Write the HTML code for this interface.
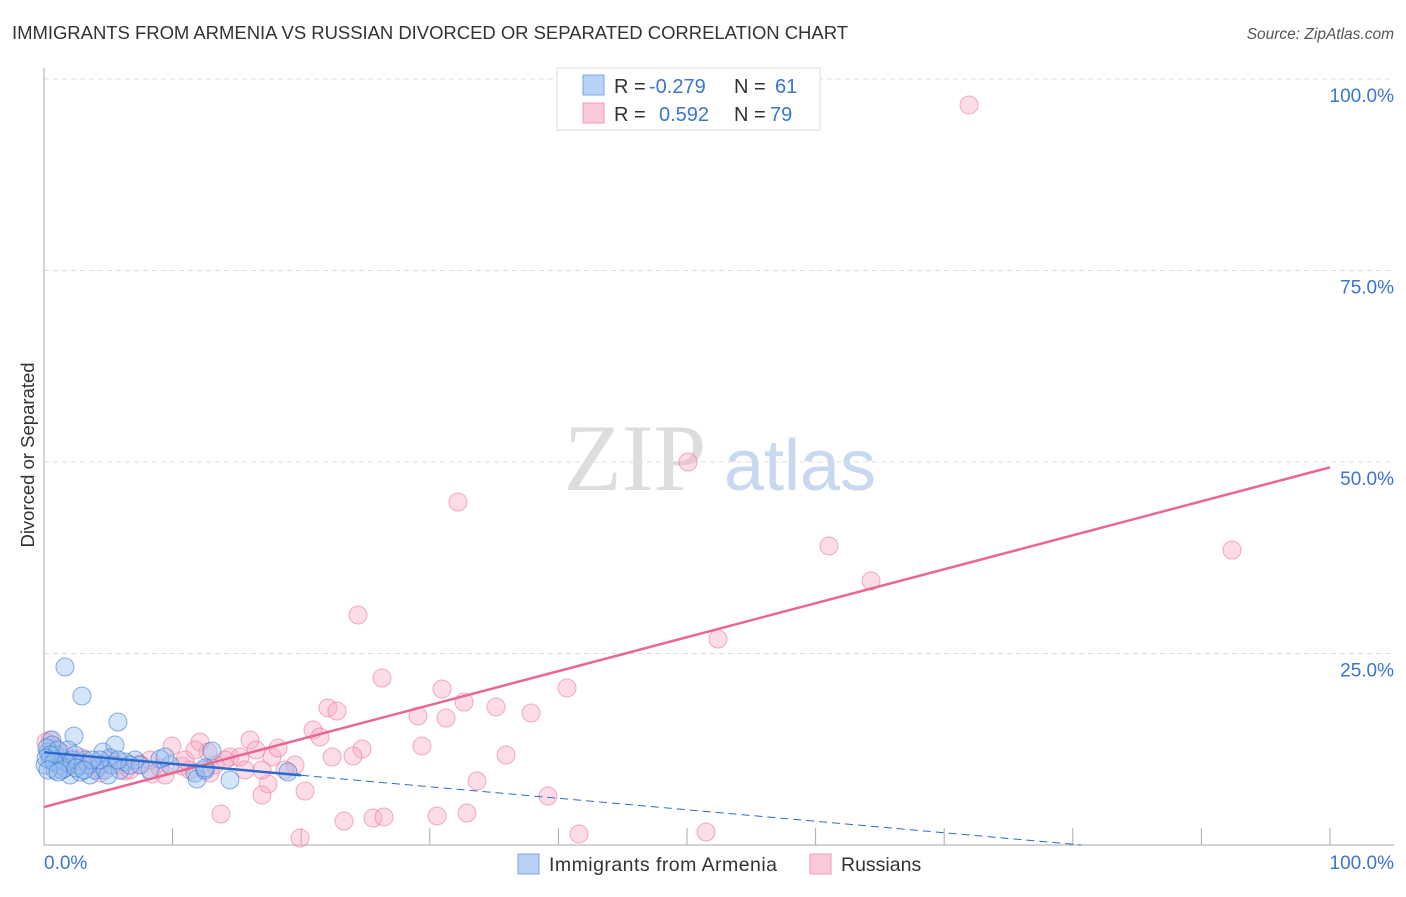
<!DOCTYPE html>
<html><head><meta charset="utf-8"><style>
body{margin:0;background:#fff;font-family:"Liberation Sans",sans-serif}
</style></head><body>
<svg id="c" width="1406" height="892" xmlns="http://www.w3.org/2000/svg">
<text x="12" y="39" font-size="18.5" fill="#333" textLength="836">IMMIGRANTS FROM ARMENIA VS RUSSIAN DIVORCED OR SEPARATED CORRELATION CHART</text>
<text x="1394" y="39" font-size="15.5" fill="#555" font-style="italic" text-anchor="end">Source: ZipAtlas.com</text>
<g><text x="635" y="490" font-size="95" fill="#ddd" font-family="Liberation Serif,serif" text-anchor="middle">ZIP</text><text x="800" y="490" font-size="72" fill="#c8d8ee" text-anchor="middle">atlas</text></g>
<g id="grid"></g><g id="axes"></g><g id="pts"></g><g id="lines"></g>
<text transform="translate(34,455) rotate(-90)" font-size="18.5" fill="#333" text-anchor="middle">Divorced or Separated</text>
<text x="44" y="869" font-size="19" fill="#3a75d0">0.0%</text>
<text x="1394" y="869" font-size="19" fill="#3a75d0" text-anchor="end">100.0%</text>
<g>
<rect x="557" y="68" width="263" height="62" fill="#fff" stroke="#ddd"/>
<rect x="583" y="75" width="21" height="20" fill="#b8d2f5" stroke="#7aa7e6"/>
<rect x="583" y="103" width="21" height="20" fill="#fcc9d8" stroke="#f09ab5"/>
<text x="614" y="93" font-size="20" fill="#333">R =</text>
<text x="649" y="93" font-size="20" fill="#3a75d0">-0.279</text>
<text x="734" y="93" font-size="20" fill="#333">N =</text>
<text x="775" y="93" font-size="20" fill="#3a75d0">61</text>
<text x="614" y="121" font-size="20" fill="#333">R =</text>
<text x="659" y="121" font-size="20" fill="#3a75d0">0.592</text>
<text x="734" y="121" font-size="20" fill="#333">N =</text>
<text x="770" y="121" font-size="20" fill="#3a75d0">79</text>
</g>
<g>
<rect x="518" y="854" width="21" height="20" fill="#b8d2f5" stroke="#7aa7e6"/>
<text x="549" y="871" font-size="19.5" fill="#333" textLength="228">Immigrants from Armenia</text>
<rect x="810" y="854" width="21" height="20" fill="#fcc9d8" stroke="#f09ab5"/>
<text x="841" y="871" font-size="19.5" fill="#333">Russians</text>
</g>
</svg>
<script>
const yTicks=[25,50,75,100];
const yTickLabels=["25.0%","50.0%","75.0%","100.0%"];
const xTicks=[10,20,30,40,50,60,70,80,90,100];
const pinkPx=[[969,105],[688,462],[458,502],[829,546],[871,581],[1232,550],[718,639],[358,615],[382,678],[442,689],[567,688],[464,702],[496,707],[418,716],[446,718],[531,713],[328,708],[337,711],[313,730],[320,737],[250,740],[422,746],[362,749],[506,755],[353,756],[332,757],[272,757],[295,765],[477,781],[548,796],[305,791],[268,784],[262,795],[221,814],[344,821],[373,818],[384,817],[437,816],[467,813],[579,834],[706,832],[300,838],[172,746],[200,742],[208,752],[230,757],[240,757],[256,750],[278,748],[182,766],[190,770],[210,773],[152,774],[125,771],[140,764],[160,768],[100,773],[88,764],[76,760],[65,754],[55,748],[50,740],[60,760],[70,765],[110,760],[120,765],[130,770],[150,760],[165,775],[185,760],[195,750],[215,765],[225,760],[245,770],[262,770],[285,770],[98,768],[82,758],[46,742]];
const bluePx=[[65,667],[82,696],[118,722],[74,736],[52,740],[103,752],[115,745],[212,751],[170,765],[160,759],[165,757],[195,773],[197,779],[205,770],[230,780],[288,772],[205,768],[135,760],[110,758],[100,765],[90,775],[80,772],[70,775],[60,765],[50,760],[48,752],[52,745],[56,755],[62,758],[68,750],[72,760],[78,765],[85,760],[95,770],[105,770],[112,765],[125,762],[140,765],[45,765],[47,748],[55,770],[65,768],[75,755],[88,765],[58,750],[50,755],[66,762],[120,770],[130,765],[100,760],[92,760],[46,758],[54,762],[62,770],[76,768],[84,770],[108,775],[118,760],[150,770],[48,770],[58,772]];
const russiansX=pinkPx.map(p=>+((p[0]-44)/12.86).toFixed(2));
const russiansY=pinkPx.map(p=>+((845-p[1])/7.66).toFixed(2));
const armeniaX=bluePx.map(p=>+((p[0]-44)/12.86).toFixed(2));
const armeniaY=bluePx.map(p=>+((845-p[1])/7.66).toFixed(2));
const pinkTrend=[4.96,49.3];
const blueTrend=[12.1,-0.15];
const X=v=>44+v*12.86, Y=v=>845-v*7.66;
const NS="http://www.w3.org/2000/svg";
function mk(t,a,parent){const e=document.createElementNS(NS,t);for(const k in a)e.setAttribute(k,a[k]);document.getElementById(parent).appendChild(e);return e;}
yTicks.forEach((t,i)=>{
 const l=mk('line',{x1:44,x2:1394,y1:Y(t),y2:Y(t),stroke:'#ddd','stroke-dasharray':'5,4'},'grid');
 
 
 const tx=mk('text',{x:1394,y:Y(t)+23,'font-size':19,fill:'#3a75d0','text-anchor':'end'},'grid');
 tx.textContent=yTickLabels[i];
 
 
});
const ax=mk('line',{x1:44,x2:44,y1:68,y2:845,stroke:'#aaa'},'axes');


const bx=mk('line',{x1:44,x2:1394,y1:845,y2:845,stroke:'#aaa'},'axes');


xTicks.forEach(t=>{const l=mk('line',{x1:X(t),x2:X(t),y1:828,y2:845,stroke:'#aaa'},'axes');
 
 });
russiansX.forEach((x,i)=>{const c=mk('circle',{cx:X(x),cy:Y(russiansY[i]),r:9,fill:'rgba(248,170,195,0.4)',stroke:'rgba(236,120,155,0.6)'},'pts');
 
 });
armeniaX.forEach((x,i)=>{const c=mk('circle',{cx:X(x),cy:Y(armeniaY[i]),r:9,fill:'rgba(150,190,240,0.4)',stroke:'rgba(60,120,210,0.6)'},'pts');
 
 });
const pl=mk('line',{x1:X(0),y1:Y(pinkTrend[0]),x2:X(100),y2:Y(pinkTrend[1]),stroke:'#e8688f','stroke-width':2.5},'lines');


const bl=mk('line',{x1:X(0),y1:Y(blueTrend[0]),x2:X(20),y2:Y(blueTrend[0]+blueTrend[1]*20),stroke:'#2a6ad0','stroke-width':2.5},'lines');


const xe=-blueTrend[0]/blueTrend[1];
const bd=mk('line',{x1:X(20),y1:Y(blueTrend[0]+blueTrend[1]*20),x2:X(xe),y2:Y(0),stroke:'#2a6ad0','stroke-width':1,'stroke-dasharray':'8,5'},'lines');


</script>
</body></html>
